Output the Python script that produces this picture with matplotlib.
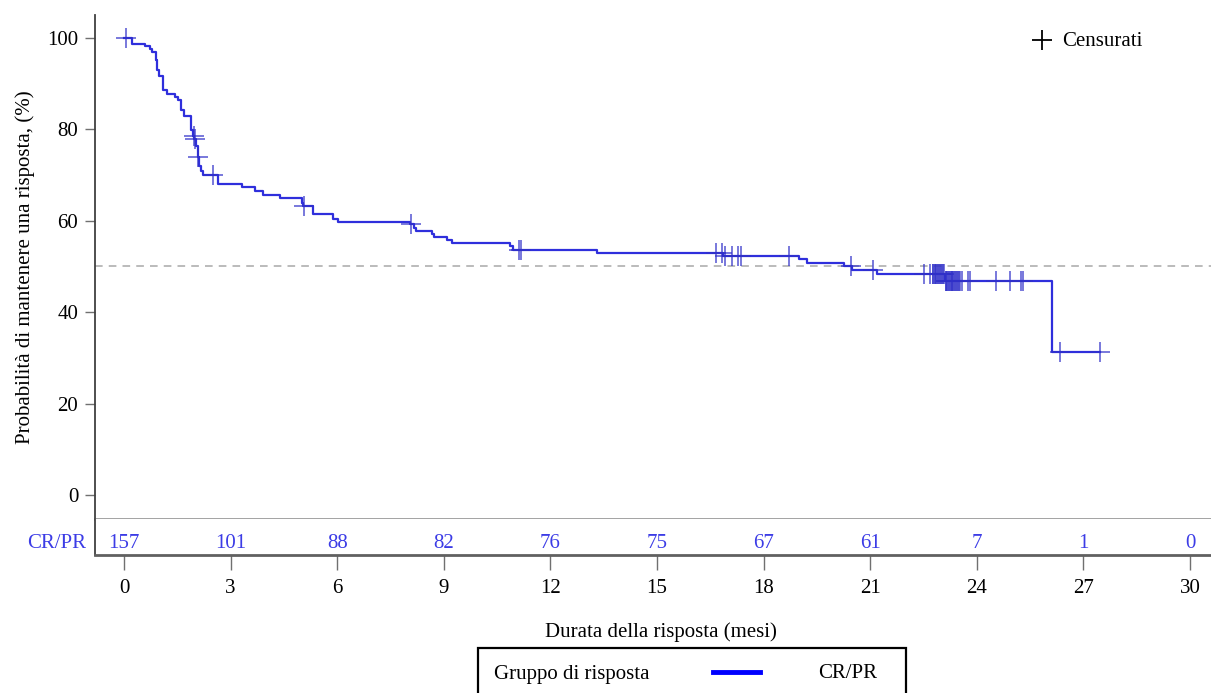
import numpy as np
import matplotlib
matplotlib.use("Agg")
import matplotlib.pyplot as plt
from matplotlib.lines import Line2D
from matplotlib.patches import Rectangle

plt.rcParams['font.family'] = ['Liberation Serif', 'DejaVu Serif']

# ---- data ----
event_times = [0.22, 0.59, 0.73, 0.80, 0.89, 0.92, 0.99, 1.09, 1.20, 1.44, 1.53, 1.60, 1.70,
               1.89, 1.93, 1.98, 2.03, 2.07, 2.10, 2.17, 2.23, 2.64, 3.31, 3.69, 3.92, 4.39,
               5.00, 5.05, 5.31, 5.87, 6.01, 8.05, 8.17, 8.22, 8.66, 8.71, 9.08, 9.22, 10.86,
               10.95, 13.30, 16.85, 19.00, 19.21, 20.26, 20.50, 21.18, 23.10, 26.11]
event_surv = [98.6, 98.3, 97.5, 96.9, 95.2, 92.9, 91.6, 88.6, 87.8, 87.1, 86.3, 84.3, 83.0,
              79.9, 78.6, 77.9, 76.3, 74.0, 71.9, 70.8, 70.1, 68.1, 67.4, 66.4, 65.7, 65.0,
              63.9, 63.3, 61.4, 60.4, 59.8, 59.2, 58.3, 57.7, 57.0, 56.5, 55.7, 55.2, 54.4,
              53.7, 53.0, 52.2, 51.7, 50.8, 50.2, 49.3, 48.4, 46.9, 31.3]
end_time = 27.47

censor_times = [0.05, 1.96, 2.00, 2.08, 2.51, 5.07, 8.08, 11.12, 11.17,
                16.65, 16.82, 16.90, 17.10, 17.29, 17.37, 18.72, 20.46, 21.09,
                22.50, 22.67,
                22.76, 22.78, 22.81, 22.83, 22.85, 22.88, 22.90, 22.93, 22.96,
                22.98, 23.01, 23.04, 23.07,
                23.12, 23.14, 23.16, 23.19, 23.21, 23.24, 23.26, 23.29, 23.31,
                23.34, 23.36, 23.39, 23.42, 23.45, 23.48, 23.51,
                23.54, 23.58, 23.74, 23.81,
                24.54, 24.94, 25.24, 25.29, 26.33, 27.47]

risk_times = [0, 3, 6, 9, 12, 15, 18, 21, 24, 27, 30]
risk_counts = [157, 101, 88, 82, 76, 75, 67, 61, 7, 1, 0]

group_label = "CR/PR"
xticks = [0, 3, 6, 9, 12, 15, 18, 21, 24, 27, 30]
yticks = [0, 20, 40, 60, 80, 100]

# ---- figure ----
W, H = 1211, 693
fig = plt.figure(figsize=(W / 100, H / 100), dpi=100)

def fx(px):
    return px / W

def fy(py):
    return 1 - py / H

ax = fig.add_axes([fx(95), fy(519), 1 - fx(95), fy(15) - fy(519)])
axr = fig.add_axes([fx(95), fy(555), 1 - fx(95), fy(519) - fy(555)])

xlim = (-0.816, 30.59)
FS = 15
BLUE = '#2f2fdc'
TXTBLUE = '#3c3ce6'

# step curve
t_steps = np.concatenate([[0.0], event_times, [end_time]])
s_steps = np.concatenate([[100.0], event_surv, [event_surv[-1]]])
ax.step(t_steps, s_steps, where='post', color=BLUE, lw=1.6, zorder=3)

# censor marks
ct = np.array(censor_times)
idx = np.searchsorted(np.array(event_times), ct, side='right')
cs = np.concatenate([[100.0], event_surv])[idx]
ax.plot(ct, cs, linestyle='none', marker='+', markersize=15, markeredgewidth=1.3,
        color='#3030c8', alpha=0.7, zorder=4)

# median reference
ax.axhline(50, color='#a8a8a8', lw=1.1, ls=(0, (5, 4)), zorder=1)

ax.set_xlim(*xlim)
ax.set_ylim(-5.25, 105)
ax.set_yticks(yticks)
ax.set_yticklabels([str(v) for v in yticks], fontsize=FS)
ax.set_xticks([])
for s in ['top', 'right']:
    ax.spines[s].set_visible(False)
ax.spines['left'].set_color('#404040')
ax.spines['left'].set_linewidth(1.3)
ax.spines['bottom'].set_color('#9a9a9a')
ax.spines['bottom'].set_linewidth(2.0)
ax.tick_params(axis='y', length=7, width=1.0, color='#707070', pad=5)
ax.set_ylabel("Probabilità di mantenere una risposta, (%)", fontsize=FS, labelpad=9)

# censor legend
fig.add_artist(Line2D([fx(1042)], [fy(40)], marker='+', markersize=15, markeredgewidth=1.3,
                      color='black', linestyle='none'))
fig.text(fx(1062), fy(42), "Censurati", fontsize=FS, va='center', ha='left')

# risk table axes
axr.set_xlim(*xlim)
axr.set_ylim(0, 1)
axr.set_yticks([])
axr.set_xticks(xticks)
axr.set_xticklabels([str(v) for v in xticks], fontsize=FS)
axr.tick_params(axis='x', length=11, width=1.0, color='#707070', pad=6)
for s in ['top', 'right']:
    axr.spines[s].set_visible(False)
axr.spines['left'].set_color('#404040')
axr.spines['left'].set_linewidth(1.3)
axr.spines['bottom'].set_color('#606060')
axr.spines['bottom'].set_linewidth(2.0)
for t, n in zip(risk_times, risk_counts):
    axr.text(t, 0.33, str(n), color=TXTBLUE, fontsize=FS, ha='center', va='center')
axr.text(-0.008, 0.33, group_label, color=TXTBLUE, fontsize=FS, ha='right', va='center',
         transform=axr.transAxes)
axr.set_xlabel("Durata della risposta (mesi)", fontsize=FS, labelpad=18)
axr.xaxis.label.set_x(0.507)

# group legend box
fig.add_artist(Rectangle((fx(478), fy(700)), fx(906) - fx(478), fy(648) - fy(700),
                         fill=False, edgecolor='black', lw=1.6))
fig.text(fx(494), fy(674), "Gruppo di risposta", fontsize=FS, va='center', ha='left')
fig.add_artist(Line2D([fx(713), fx(760)], [fy(672), fy(672)], color='#0000ff', lw=3.5))
fig.text(fx(818), fy(674), group_label, fontsize=FS, va='center', ha='left')

fig.savefig("out.png", dpi=100)
